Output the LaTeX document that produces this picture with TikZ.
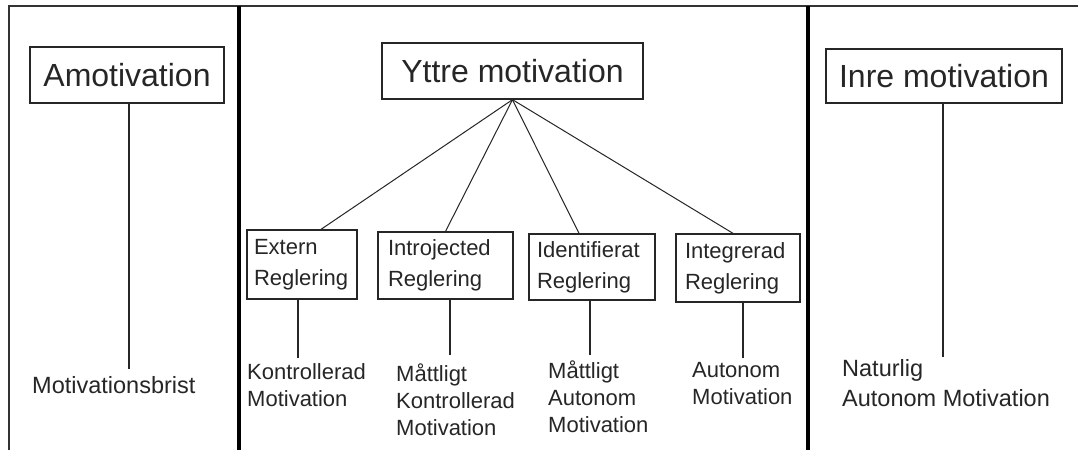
\documentclass[tikz,border=0pt]{standalone}
\usepackage{fontspec}
\setmainfont{Liberation Sans}
\begin{document}
\begin{tikzpicture}[x=1pt,y=-1pt,
  frame/.style={line width=1.3pt, draw=black!80},
  divider/.style={line width=3.3pt, draw=black},
  title/.style={draw=black!85, line width=1.3pt, font=\fontsize{32}{38}\selectfont, inner sep=0pt, text=black!85},
  regbox/.style={draw=black!85, line width=1.3pt, font=\fontsize{22}{31}\selectfont, align=left, inner ysep=0pt, text=black!85},
  lbl/.style={font=\fontsize{22}{27}\selectfont, align=left, inner sep=0pt, anchor=west, text=black!85},
  biglbl/.style={lbl, font=\fontsize{23.5}{30}\selectfont},
  conn/.style={line width=1.2pt, draw=black!85},
  fan/.style={line width=1pt, draw=black!85}]
\useasboundingbox (0,0) rectangle (1078,450);
\fill[white] (0,0) rectangle (1078,450);
% frame and dividers
\draw[frame] (9,450) -- (9,6) -- (1078,6);
\draw[divider] (239,6) -- (239,450);
\draw[divider] (808,6) -- (808,450);
% titles
\node[title, minimum width=194pt, minimum height=56pt] (amo) at (127,75) {Amotivation};
\node[title, minimum width=261pt, minimum height=56pt] (ytt) at (512.5,71) {Yttre motivation};
\node[title, minimum width=236pt, minimum height=54pt] (inre) at (944,76) {Inre motivation};
% regulation boxes
\node[regbox, text width=96pt, inner xsep=7pt, minimum height=69pt] (ext) at (302,264.5) {Extern\\Reglering};
\node[regbox, text width=115pt, inner xsep=10pt, minimum height=67pt] (intro) at (445.5,265.5) {Introjected\\Reglering};
\node[regbox, text width=110pt, inner xsep=8pt, minimum height=66pt] (iden) at (592,267) {Identifierat\\Reglering};
\node[regbox, text width=106pt, inner xsep=9pt, minimum height=68pt] (integ) at (738,268) {Integrerad\\Reglering};
% labels
\node[biglbl] (brist) at (32,385) {Motivationsbrist};
\node[lbl] (kon) at (247,385) {Kontrollerad\\Motivation};
\node[lbl] (mk) at (396,400) {Måttligt\\Kontrollerad\\Motivation};
\node[lbl] (ma) at (548,396.5) {Måttligt\\Autonom\\Motivation};
\node[lbl] (aut) at (692,383.5) {Autonom\\Motivation};
\node[biglbl] (nat) at (842,383) {Naturlig\\Autonom Motivation};
% connector ends
\coordinate (e0) at (129,369);
\coordinate (e1) at (298,358);
\coordinate (e2) at (450,355);
\coordinate (e3) at (590,355);
\coordinate (e4) at (743,358);
\coordinate (e5) at (943,357);
\draw[conn] (amo.south -| e0) -- (e0);
\draw[conn] (ext.south -| e1) -- (e1);
\draw[conn] (intro.south -| e2) -- (e2);
\draw[conn] (iden.south -| e3) -- (e3);
\draw[conn] (integ.south -| e4) -- (e4);
\draw[conn] (inre.south -| e5) -- (e5);
% fan
\draw[fan] (ytt.south) -- ([xshift=19pt]ext.north);
\draw[fan] (ytt.south) -- (intro.north);
\draw[fan] (ytt.south) -- ([xshift=-13pt]iden.north);
\draw[fan] (ytt.south) -- ([xshift=-5pt]integ.north);
\end{tikzpicture}
\end{document}
